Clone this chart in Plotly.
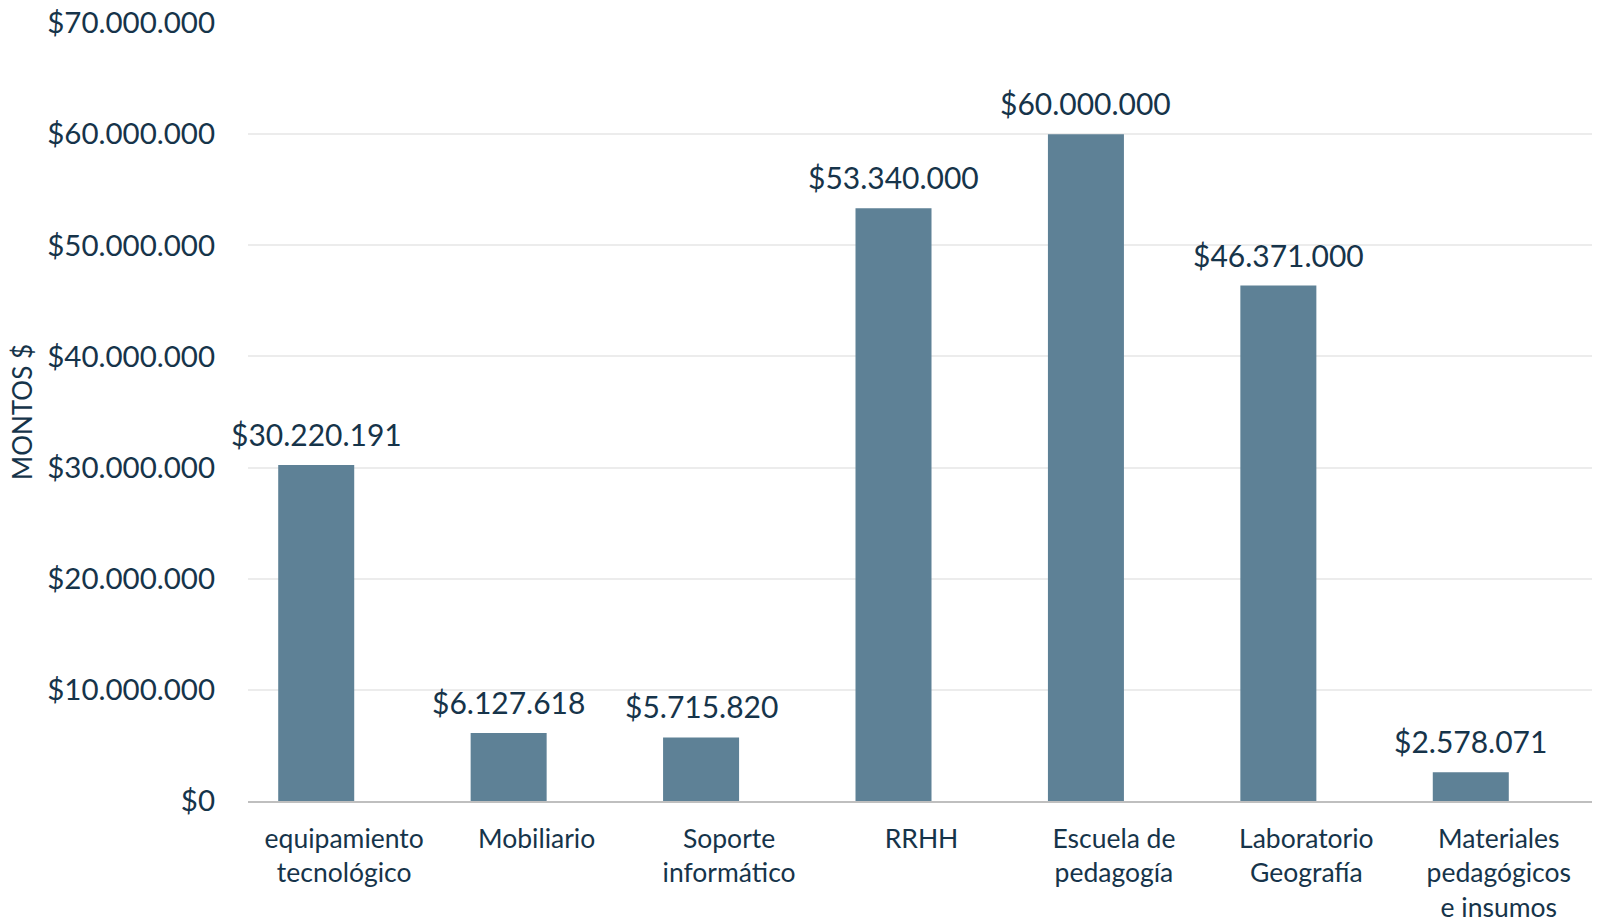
import plotly.graph_objects as go

categories = ["equipamiento<br>tecnológico", "Mobiliario", "Soporte<br>informático", "RRHH",
              "Escuela de<br>pedagogía", "Laboratorio<br>Geografía", "Materiales<br>pedagógicos<br>e insumos"]
values = [30220191, 6127618, 5715820, 53340000, 60000000, 46371000, 2578071]
y_ticks = [0, 10000000, 20000000, 30000000, 40000000, 50000000, 60000000, 70000000]

FONT = "Lato"
TXT = "#16344a"
BAR = "#5e8196"

def fmt(v):
    return "$" + f"{v:,}".replace(",", ".")

fig = go.Figure()
fig.add_trace(go.Bar(x=categories, y=values, marker=dict(color=BAR, line=dict(width=0)),
                     width=0.395, offset=-0.343, hoverinfo="skip"))

for c, v in zip(categories, values):
    fig.add_annotation(x=c, y=v, text=fmt(v), showarrow=False, yanchor="bottom",
                       xshift=-28, yshift=11, font=dict(family=FONT, size=30, color=TXT))

fig.add_annotation(x=0, y=0.5, xref="paper", yref="paper", text="MONTOS $", showarrow=False,
                   textangle=-90, xanchor="center", yanchor="middle", xshift=-226,
                   font=dict(family=FONT, size=26, color=TXT))

fig.update_layout(
    width=1592, height=915,
    margin=dict(l=240, r=5, t=15, b=122),
    plot_bgcolor="white", paper_bgcolor="white",
    showlegend=False,
    font=dict(family=FONT, color=TXT, size=26),
    xaxis=dict(showgrid=False, showline=True, linecolor="#bfbfbf", linewidth=2,
               automargin=False, range=[-0.5, 6.5],
               ticks="outside", ticklen=13, tickcolor="rgba(0,0,0,0)",
               tickfont=dict(family=FONT, size=26.5, color=TXT)),
    yaxis=dict(range=[0, 70000000], tickvals=y_ticks, ticktext=[fmt(v) for v in y_ticks],
               automargin=False, ticklabeloverflow="allow",
               showgrid=True, gridcolor="#ececec", gridwidth=2, zeroline=False,
               showline=False, ticks="outside", ticklen=26, tickcolor="rgba(0,0,0,0)",
               tickfont=dict(family=FONT, size=29.5, color=TXT)),
)

fig.write_html("out.html")
